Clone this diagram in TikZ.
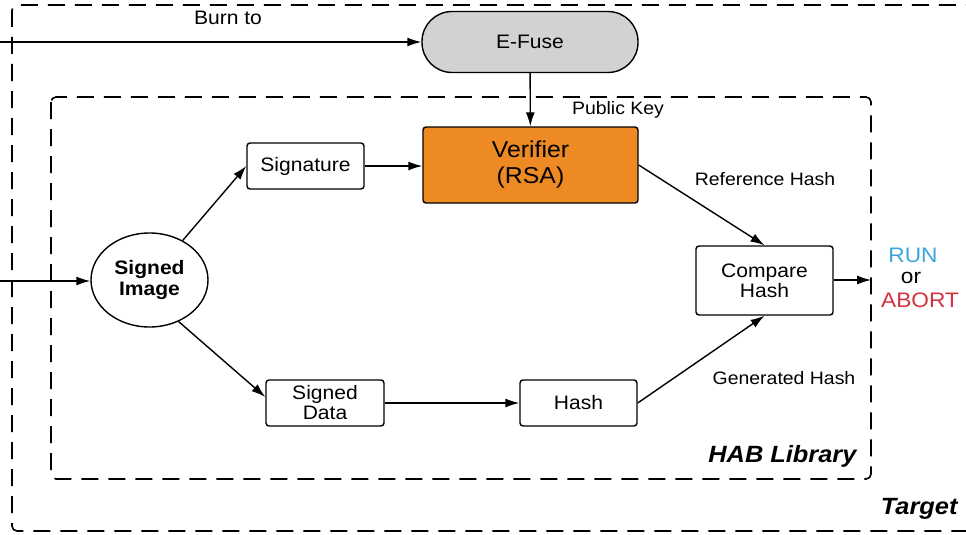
\documentclass[tikz,border=0pt]{standalone}
\usepackage{fontspec}
\setmainfont[FakeStretch=1.08]{Liberation Sans}
\usetikzlibrary{shapes.geometric,arrows.meta,calc}
\definecolor{fusegray}{HTML}{D2D2D2}
\definecolor{verorange}{HTML}{EE8A24}
\definecolor{runblue}{HTML}{3DA5DC}
\definecolor{abortred}{HTML}{D2323F}
\begin{document}
\begin{tikzpicture}[x=1pt,y=-1pt,
  every node/.style={font=\fontsize{19.5}{21}\selectfont},
  procbox/.style={draw=black,line width=1.4pt,rounded corners=3pt,inner sep=0pt,align=center},
  group/.style={draw=black,line width=1.6pt,dash pattern=on 17pt off 10pt,rounded corners=5pt},
  conn/.style={line width=1.4pt,-{Latex[length=14pt,width=9pt]}},
  lbl/.style={font=\fontsize{18}{20}\selectfont}
]
\useasboundingbox (0,0) rectangle (966,535);
\clip (0,0) rectangle (966,535);
% groups
\draw[group] (12,5) rectangle (990,531);
\draw[group] (51,97) rectangle (871,479);
% nodes
\node[procbox,fill=fusegray,rounded corners=30pt,minimum width=216pt,minimum height=61pt] (efuse) at (530,42) {E-Fuse};
\node[procbox,fill=verorange,minimum width=215pt,minimum height=76pt,font=\fontsize{23}{26}\selectfont] (ver) at (530.5,165) {Verifier\\(RSA)};
\node[procbox,fill=white,minimum width=117pt,minimum height=46pt] (sig) at (305.5,166) {Signature};
\node[draw=black,line width=1.4pt,ellipse,inner sep=0pt,minimum width=117pt,minimum height=94pt,align=center,font=\fontsize{19.5}{21}\bfseries\selectfont] (img) at (149.5,280) {Signed\\Image};
\node[procbox,fill=white,minimum width=118pt,minimum height=46pt,font=\fontsize{19.5}{20}\selectfont] (sdata) at (325,403) {Signed\\Data};
\node[procbox,fill=white,minimum width=117pt,minimum height=46pt] (hash) at (578.5,403) {Hash};
\node[procbox,fill=white,minimum width=137pt,minimum height=69pt,font=\fontsize{19.5}{20}\selectfont] (cmp) at (764.5,280.5) {Compare\\Hash};
% free ends
\coordinate (burnin) at (0,42);
\coordinate (imgin) at (0,281);
\coordinate (outp) at (871,280);
% connectors
\draw[conn] (burnin) -- (efuse.west);
\draw[conn] (efuse) -- (ver);
\draw[conn] (sig) -- (ver.west |- sig);
\draw[conn] (imgin) -- (img.west |- imgin);
\draw[conn] (img.50) -- (sig.west);
\draw[conn] (img.-55) -- ([yshift=6pt]sdata.west);
\draw[conn] (sdata) -- (hash);
\draw[conn] (ver.east) -- (cmp.north);
\draw[conn] (hash.east) -- (cmp.south);
\draw[conn] (cmp.east |- outp) -- (outp);
% labels
\node[font=\fontsize{19.5}{21}\selectfont] (burnlbl) at (228,18) {Burn to};
\node[lbl] (pklbl) at (618,110) {Public Key};
\node[lbl] (reflbl) at (765,179) {Reference Hash};
\node[lbl] (genlbl) at (784,378) {Generated Hash};
\node[font=\fontsize{21}{22}\selectfont,text=runblue] (run) at (913,255) {RUN};
\node[font=\fontsize{21}{22}\selectfont] (or) at (911,278) {or};
\node[font=\fontsize{21}{22}\selectfont,text=abortred] (abort) at (920,300) {ABORT};
\node[font=\fontsize{23.5}{25}\bfseries\itshape\selectfont,anchor=east] (hab) at (860,456) {HAB Library};
\node[font=\fontsize{23.5}{25}\bfseries\itshape\selectfont,anchor=east] (target) at (961,509) {Target};
\end{tikzpicture}
\end{document}
